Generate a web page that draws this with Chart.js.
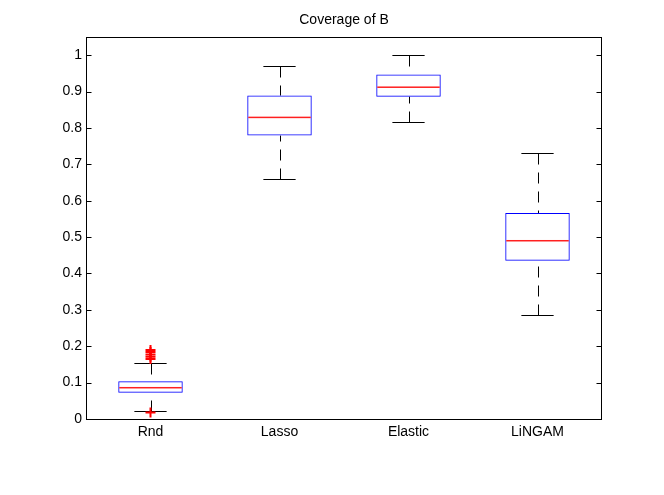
<!DOCTYPE html>
<html>
<head>
<meta charset="utf-8">
<script src="https://cdn.jsdelivr.net/npm/chart.js@4.4.1/dist/chart.umd.min.js"></script>
<style>
  body { margin: 0; background: #fff; }
</style>
</head>
<body>
<canvas id="myChart" width="664" height="495"></canvas>
<script>
// box plot values
var categories = ["Rnd", "Lasso", "Elastic", "LiNGAM"];
var q1 = [0.072, 0.779, 0.886, 0.435];
var q3 = [0.104, 0.889, 0.947, 0.566];
var medians = [0.086, 0.829, 0.912, 0.490];
var whiskerLow = [0.023, 0.660, 0.816, 0.286];
var whiskerHigh = [0.153, 0.971, 1.0, 0.731];
var outlierCats = ["Rnd", "Rnd", "Rnd", "Rnd", "Rnd", "Rnd"];
var outlierValues = [0.19, 0.184, 0.177, 0.171, 0.165, 0.018];
var yTicks = [0, 0.1, 0.2, 0.3, 0.4, 0.5, 0.6, 0.7, 0.8, 0.9, 1];

var fontFamily = "'Liberation Sans', Arial, Helvetica, sans-serif";

var boxData = categories.map(function (c, i) { return [q1[i], q3[i]]; });
var outlierData = outlierValues.map(function (v, i) { return { x: outlierCats[i], y: v }; });

// whiskers, caps and medians, drawn on the library's scales
var boxPlugin = {
  id: "boxParts",
  beforeDatasetsDraw: function (chart) {
    var ctx = chart.ctx;
    var y = chart.scales.y;
    var meta = chart.getDatasetMeta(0);
    ctx.save();
    ctx.strokeStyle = "#000000";
    ctx.lineWidth = 1;
    meta.data.forEach(function (bar, i) {
      var cx = bar.x;
      var capHalf = bar.width / 4;
      var px = Math.round(cx) + 0.5;
      var yHi = Math.round(y.getPixelForValue(whiskerHigh[i])) + 0.5;
      var yLo = Math.round(y.getPixelForValue(whiskerLow[i])) + 0.5;
      var yQ3 = y.getPixelForValue(q3[i]);
      var yQ1 = y.getPixelForValue(q1[i]);
      // dashed whiskers, from the caps toward the box
      ctx.setLineDash([11, 8]);
      ctx.beginPath();
      ctx.moveTo(px, yHi);
      ctx.lineTo(px, yQ3);
      ctx.moveTo(px, yLo);
      ctx.lineTo(px, yQ1);
      ctx.stroke();
      ctx.setLineDash([]);
      // caps
      ctx.beginPath();
      ctx.moveTo(cx - capHalf, yHi);
      ctx.lineTo(cx + capHalf, yHi);
      ctx.moveTo(cx - capHalf, yLo);
      ctx.lineTo(cx + capHalf, yLo);
      ctx.stroke();
    });
    ctx.restore();
  },
  afterDatasetsDraw: function (chart) {
    var ctx = chart.ctx;
    var y = chart.scales.y;
    var meta = chart.getDatasetMeta(0);
    ctx.save();
    ctx.fillStyle = "#ff2020";
    meta.data.forEach(function (bar, i) {
      var half = bar.width / 2;
      var yMed = y.getPixelForValue(medians[i]);
      ctx.fillRect(bar.x - half + 1, yMed - 0.75, bar.width - 2, 1.5);
    });
    ctx.restore();
  },
  afterDraw: function (chart) {
    var ctx = chart.ctx;
    var a = chart.chartArea;
    var y = chart.scales.y;
    var l = Math.round(a.left) + 0.5, r = Math.round(a.right) - 0.5;
    var t = Math.round(a.top) + 0.5, b = Math.round(a.bottom) + 0.5;
    ctx.save();
    ctx.strokeStyle = "#000";
    ctx.lineWidth = 1;
    ctx.strokeRect(l, t, r - l, b - t);
    // inward ticks on left and right axes
    ctx.beginPath();
    yTicks.forEach(function (v) {
      var py = Math.round(y.getPixelForValue(v)) + 0.5;
      ctx.moveTo(l, py);
      ctx.lineTo(l + 5, py);
      ctx.moveTo(r, py);
      ctx.lineTo(r - 5, py);
    });
    ctx.stroke();
    ctx.restore();
  }
};

var ctx = document.getElementById("myChart").getContext("2d");

var myChart = new Chart(ctx, {
  type: "bar",
  data: {
    labels: categories,
    datasets: [
      {
        label: "Box",
        data: boxData,
        backgroundColor: "rgba(0,0,0,0)",
        borderColor: "#0000ff",
        borderWidth: 1,
        borderSkipped: false,
        barPercentage: 0.5,
        categoryPercentage: 1.0
      },
      {
        type: "line",
        label: "Outliers",
        data: outlierData,
        showLine: false,
        pointStyle: "cross",
        pointRadius: 5,
        pointBorderColor: "#ff0000",
        pointBorderWidth: 2,
        pointBackgroundColor: "#ff0000"
      }
    ]
  },
  options: {
    responsive: false,
    animation: false,
    devicePixelRatio: 1,
    // 24px left pad + 62px y axis, 62px empty right axis: title centres over the plot
    layout: { padding: { top: 0, left: 24, right: 0, bottom: 0 } },
    plugins: {
      legend: { display: false },
      tooltip: { enabled: false },
      title: {
        display: true,
        text: "Coverage of B",
        color: "#000",
        font: { family: fontFamily, size: 14, weight: "normal" },
        padding: { top: 11.6, bottom: 8.6 }
      }
    },
    scales: {
      x: {
        grid: { display: false, drawTicks: false },
        border: { display: false },
        ticks: {
          color: "#000",
          padding: 5,
          font: { family: fontFamily, size: 14 }
        },
        afterFit: function (scale) { scale.height = 76; }
      },
      y: {
        min: 0,
        max: 1.05,
        grid: { display: false, drawTicks: false },
        border: { display: false },
        ticks: {
          stepSize: 0.1,
          color: "#000",
          padding: 4,
          font: { family: fontFamily, size: 14 },
          callback: function (v) {
            if (v > 1.0001) return "";
            return String(Math.round(v * 10) / 10);
          }
        },
        afterFit: function (scale) { scale.width = 62; }
      },
      yRight: {
        type: "linear",
        position: "right",
        min: 0,
        max: 1.05,
        grid: { display: false, drawTicks: false },
        border: { display: false },
        ticks: { display: false },
        afterFit: function (scale) { scale.width = 62; }
      }
    }
  },
  plugins: [boxPlugin]
});
</script>
</body>
</html>
